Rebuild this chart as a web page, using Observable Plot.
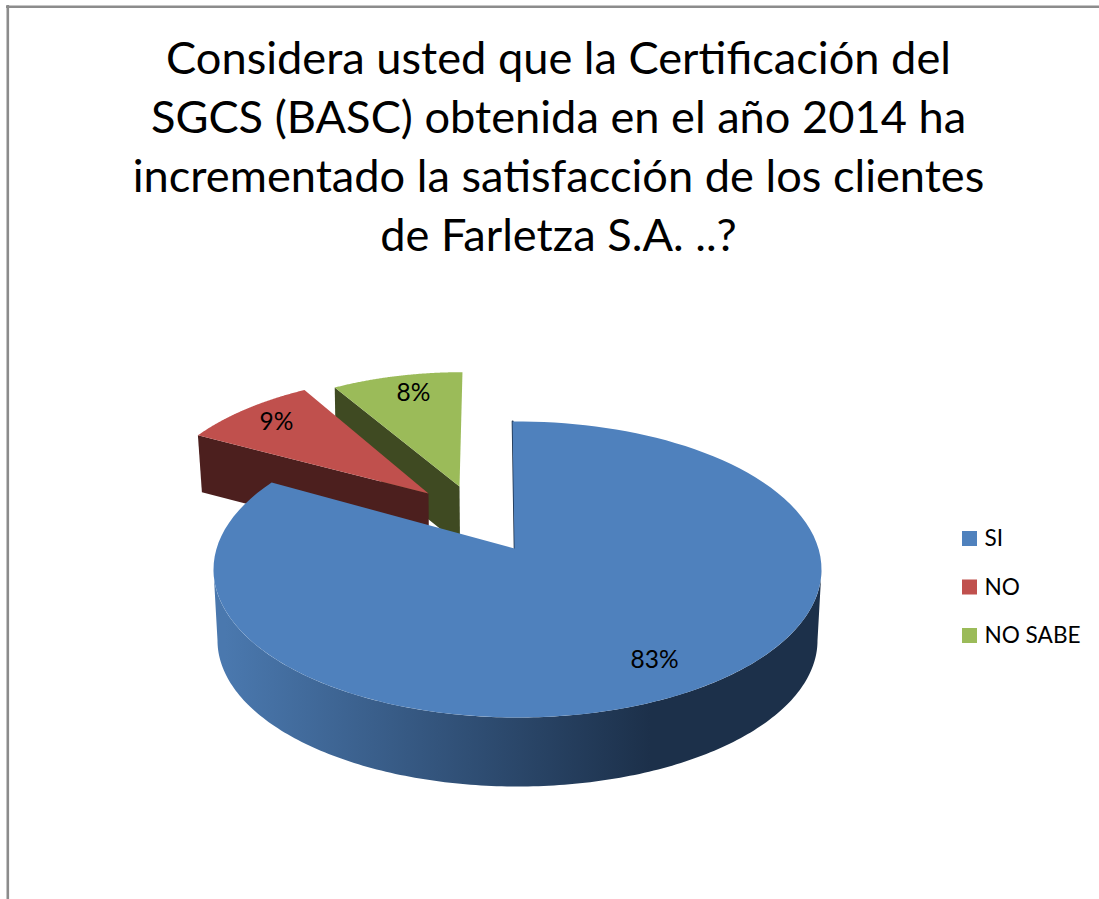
<!DOCTYPE html>
<html>
<head>
<meta charset="utf-8">
<script src="https://cdn.jsdelivr.net/npm/d3@7"></script>
<script src="https://cdn.jsdelivr.net/npm/@observablehq/plot@0.6"></script>
<style>html,body{margin:0;padding:0;background:#fff}svg{display:block}</style>
</head>
<body>
<div id="chart"></div>
<script>
const categories = ["SI", "NO", "NO SABE"];
const percents = [83, 9, 8];
const topColors = ["#4f81bd", "#c0504d", "#9bbb59"];
const wallColors = ["url(#blueWall)", "#4c1f1e", "#3f4a22"];
const titleLines = [
  "Considera usted que la Certificación del",
  "SGCS (BASC) obtenida en el año 2014 ha",
  "incrementado la satisfacción de los clientes",
  "de Farletza S.A. ..?"
];

const W = 1099, H = 899;
const FONT = "Lato, Carlito, Calibri, sans-serif";

// Layout of the exploded perspective pie (apex, rim ellipse, wall depth).
const base = {rx: 304, ry: 148, ox: 3, oy: 21};
const layout = [
  {ax: 514, ay: 548, s: 1.00, aspect: 1.90, tilt: -0.016, depth: 69, lean: 4},
  {ax: 428, ay: 493, s: 0.93, aspect: 2.18, tilt: 0.000, depth: 57, lean: 4},
  {ax: 459, ay: 486, s: 0.90, aspect: 2.42, tilt: 0.026, depth: 58, lean: 1}
];
const labelSpots = [[654, 660], [276, 422], [413, 393]];
const legendY = [538.5, 587, 635.5];

// Slice angles come from the values.
const total = d3.sum(percents);
let acc = 0;
const slices = percents.map((v, i) => {
  const a0 = acc / total * 2 * Math.PI;
  acc += v;
  return {i, a0, a1: acc / total * 2 * Math.PI};
});

function rim(l, th) {
  const cx = l.ax + l.s * base.ox, cy = l.ay + l.s * base.oy;
  const rx = base.rx * l.s, ry = base.ry * l.s;
  const dx0 = Math.sin(th) * l.aspect, dy0 = -Math.cos(th);
  const dx = dx0 - dy0 * l.tilt, dy = dy0 + dx0 * l.tilt;
  const px = (l.ax - cx) / rx, py = (l.ay - cy) / ry;
  const qx = dx / rx, qy = dy / ry;
  const A = qx * qx + qy * qy, B = 2 * (px * qx + py * qy), C = px * px + py * py - 1;
  const k = (-B + Math.sqrt(B * B - 4 * A * C)) / (2 * A);
  return {x: l.ax + k * dx, y: l.ay + k * dy};
}
function topFace(s) {
  const l = layout[s.i], n = 120;
  const pts = [{x: l.ax, y: l.ay}];
  for (let j = 0; j <= n; j++) pts.push(rim(l, s.a0 + (s.a1 - s.a0) * j / n));
  return pts;
}
function cutWall(s) { // visible flat cut face on the left side of a wedge
  const l = layout[s.i];
  const c = rim(l, s.a0);
  return [
    {x: c.x, y: c.y},
    {x: l.ax, y: l.ay},
    {x: l.ax + 0.5, y: l.ay + l.depth},
    {x: c.x + l.lean, y: c.y + l.depth}
  ];
}
function blueWall() {
  const c = {x: 517, y: 569, rx: 304, ry: 148};
  const b = {x: 517, y: 640, rx: 300, ry: 146};
  const top = d3.range(0, 181).map(d => {
    const t = d * Math.PI / 180;
    return {x: c.x + c.rx * Math.cos(t), y: c.y + c.ry * Math.sin(t)};
  });
  const bottom = d3.range(180, -1, -1).map(d => {
    const t = d * Math.PI / 180;
    return {x: b.x + b.rx * Math.cos(t), y: b.y + b.ry * Math.sin(t)};
  });
  return top.concat(bottom);
}

const poly = (pts, fill) => Plot.line(pts, {x: "x", y: "y", fill, stroke: "none", curve: "linear"});

const defs = () => {
  const ns = "http://www.w3.org/2000/svg";
  const d = document.createElementNS(ns, "defs");
  const g = document.createElementNS(ns, "linearGradient");
  g.setAttribute("id", "blueWall");
  g.setAttribute("gradientUnits", "userSpaceOnUse");
  g.setAttribute("x1", 225); g.setAttribute("x2", 650);
  g.setAttribute("y1", 0); g.setAttribute("y2", 0);
  [["0", "#4a78ae"], ["1", "#1c304a"]].forEach(([o, c]) => {
    const st = document.createElementNS(ns, "stop");
    st.setAttribute("offset", o); st.setAttribute("stop-color", c);
    g.appendChild(st);
  });
  d.appendChild(g);
  return d;
};

const [blue, red, green] = slices;
const blueStart = rim(layout[0], 0);

const plot = Plot.plot({
  width: W, height: H,
  margin: 0,
  style: {background: "#fff", fontFamily: FONT},
  x: {axis: null, domain: [0, W], range: [0, W]},
  y: {axis: null, domain: [0, H], range: [0, H]},
  marks: [
    defs,
    Plot.ruleX([7.3], {y1: 5, y2: H, stroke: "#8c8c8c", strokeWidth: 2.6}),
    Plot.ruleY([6.2], {x1: 6, x2: W, stroke: "#8c8c8c", strokeWidth: 2.4}),

    Plot.text(titleLines, {
      x: 558, y: (d, i) => 59.5 + i * 58.7, text: d => d,
      fontSize: 45.2, fontFamily: FONT, fill: "#000", textAnchor: "middle", lineAnchor: "middle"
    }),

    poly(cutWall(green), wallColors[2]),
    poly(topFace(green), topColors[2]),
    poly(cutWall(red), wallColors[1]),
    poly(topFace(red), topColors[1]),
    poly(blueWall(), wallColors[0]),
    Plot.line([blueStart, {x: layout[0].ax, y: layout[0].ay}], {
      x: d => d.x + 0.2, y: "y", stroke: "#1c304a", strokeWidth: 2
    }),
    poly(topFace(blue), topColors[0]),

    Plot.text(percents, {
      x: (d, i) => labelSpots[i][0], y: (d, i) => labelSpots[i][1],
      text: d => d + "%", fontSize: 24.5, fontFamily: FONT, fill: "#000",
      textAnchor: "middle", lineAnchor: "middle"
    }),

    Plot.rect(categories, {
      x1: () => 962, x2: () => 977,
      y1: (d, i) => legendY[i] - 7.5, y2: (d, i) => legendY[i] + 7.5,
      fill: (d, i) => topColors[i], inset: 0
    }),
    Plot.text(categories, {
      x: () => 984, y: (d, i) => legendY[i], text: d => d,
      fontSize: 22.6, fontFamily: FONT, fill: "#000", textAnchor: "start", lineAnchor: "middle"
    })
  ]
});
document.getElementById("chart").appendChild(plot);
</script>
</body>
</html>
